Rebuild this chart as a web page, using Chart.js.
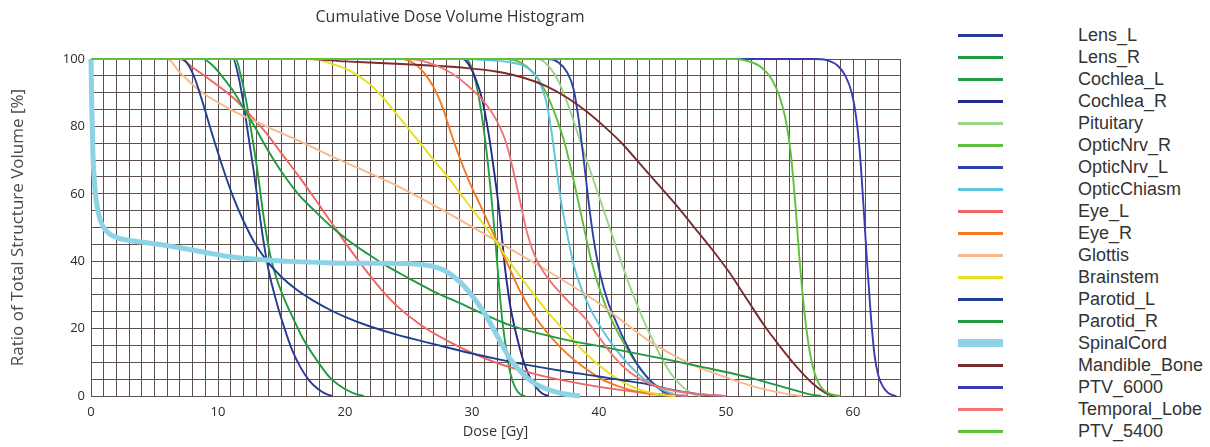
<!DOCTYPE html>
<html>
<head>
<meta charset="utf-8">
<script src="https://cdn.jsdelivr.net/npm/chart.js@4.4.1/dist/chart.umd.min.js"></script>
<style>
  body { margin: 0; background: #fff; width: 1210px; height: 447px; overflow: hidden; position: relative; }
  #wrap { position: absolute; left: 0; top: 0; width: 910px; height: 447px; }
  #legend { position: absolute; left: 958px; top: 24px; font-family: 'Liberation Sans', Arial, sans-serif; font-size: 18px; color: #333; }
  .row { height: 22px; display: flex; align-items: center; }
  .swatch { width: 45px; height: 3px; margin-right: 75px; }
</style>
</head>
<body>
<div id="wrap"><canvas id="dvh" width="910" height="447"></canvas></div>
<div id="legend"></div>
<script>
// structure names, in legend order
const structures = ['Lens_L', 'Lens_R', 'Cochlea_L', 'Cochlea_R', 'Pituitary', 'OpticNrv_R', 'OpticNrv_L',
  'OpticChiasm', 'Eye_L', 'Eye_R', 'Glottis', 'Brainstem', 'Parotid_L', 'Parotid_R', 'SpinalCord',
  'Mandible_Bone', 'PTV_6000', 'Temporal_Lobe', 'PTV_5400'];

const lineColors = ['#2b3a94', '#1f9a3f', '#23a043', '#25298a', '#9ad68a', '#5cbe3c', '#2f42a6',
  '#5cc6de', '#f26464', '#f37a22', '#f8b98a', '#e6e01e', '#1f3f8f', '#1f9a3f', '#8dd3e6',
  '#7a2b2e', '#3a3ab4', '#f07474', '#5dc23a'];

// dose [Gy], volume [%] pairs
const Lens_L = [[0,100],[11.2,100],[11.6,95],[12,87],[12.4,77],[12.8,67],[13.2,56],[13.6,45.5],[14,37],[14.6,28],[15.2,20.5],[15.8,14],[16.5,8.5],[17.2,4.5],[17.9,2],[18.5,0.6],[19,0]];
const Lens_R = [[0,100],[11.4,100],[11.8,95],[12.2,88],[12.6,79],[13.1,67],[13.6,53],[14.1,42],[14.6,35],[15.2,29],[15.8,24],[16.7,17],[17.8,10.5],[18.8,5.5],[19.8,2.5],[20.7,0.8],[21.5,0]];
const Cochlea_L = [[0,100],[29.5,100],[29.9,98],[30.3,93],[30.7,85],[31.1,74],[31.5,60],[31.8,48],[32.1,34],[32.4,22],[32.7,13.6],[33,7],[33.4,2.5],[33.8,0.5],[34.2,0]];
const Cochlea_R = [[0,100],[29.3,100],[29.8,98],[30.3,94],[30.8,88],[31.3,78],[31.8,65],[32.2,53],[32.6,38],[33,27],[33.5,18],[34,11],[34.5,6],[35,2.8],[35.5,0.8],[36,0]];
const Pituitary = [[0,100],[35.2,100],[36,98],[36.8,93.5],[37.6,86],[38.4,77],[39.3,67],[40.2,57],[41.1,47],[42,37],[42.9,28],[43.8,20],[44.7,13],[45.6,7],[46.5,3],[47.3,0.8],[48,0]];
const OpticNrv_R = [[0,100],[32.7,100],[33.8,99],[34.8,96],[35.7,91],[36.5,84],[37.3,75],[38,64],[38.7,52],[39.4,40],[40.2,30],[41,22.5],[41.9,16],[42.8,10.5],[43.7,6],[44.6,2.8],[45.4,0.8],[46,0]];
const OpticNrv_L = [[0,100],[36,100],[36.8,99],[37.5,96],[38,91],[38.4,82],[38.8,70],[39.2,57],[39.6,46],[40.1,36],[40.7,28],[41.4,21.5],[42.2,15],[43,9.5],[43.8,5.5],[44.6,2.5],[45.4,0.6],[46,0]];
const OpticChiasm = [[0,100],[29,100],[31.5,99.6],[33,99],[34.3,97.5],[35.2,94],[35.8,88],[36.2,80],[36.6,69],[37,58],[37.5,48],[38,39],[38.6,32],[39.3,26],[40.2,20],[41.2,14.5],[42.3,9.5],[43.5,5.2],[44.8,2.2],[46,0.5],[47,0]];
const Eye_L = [[0,100],[7,100],[8,97.5],[9.5,93.5],[11.2,88.5],[12.5,83.5],[13.8,78],[15,72],[16.5,64.5],[18,56.5],[19.2,50],[20.4,43.5],[21.7,37],[23,31],[24.3,26],[26,21],[28,16.5],[30,12.8],[32.2,9.5],[35,6.5],[37.5,4.4],[40,2.7],[43,1.2],[46,0.2],[47,0]];
const Eye_R = [[0,100],[24.5,100],[25.5,98.5],[26.3,95.5],[27,91.5],[27.7,85.5],[28.3,78.5],[29,71],[29.8,63.5],[30.6,57],[31.4,50.5],[32.2,44],[33,37.5],[33.8,31],[34.8,24.5],[36.1,18],[37.5,12.5],[38.8,8.5],[40.2,5],[41.6,2.8],[43,1.3],[44.5,0.4],[46,0]];
const Glottis = [[0,100],[6,100],[7,96],[8.6,90.5],[11,85],[13.8,80],[16.5,75.5],[19,71],[21.7,66.5],[24.3,62],[28,54.5],[32.2,45.4],[36,37],[40,27.5],[41.4,23.5],[42.7,19.8],[44,16.2],[45.4,13],[47.5,9],[49.3,6.5],[51,4.2],[53.2,1.8],[55,0.5],[56,0]];
const Brainstem = [[0,100],[17.5,100],[19,98.5],[20.4,96.5],[21.8,93],[23,88.5],[24.3,82.5],[25.6,76.5],[27,70],[28.3,64],[29.6,57.5],[31,50.5],[32.2,44],[33.5,37],[34.8,30.5],[36.1,24.3],[37.5,18.5],[38.8,13.2],[40.1,8.8],[41.4,5.2],[42.7,2.6],[44,1],[45.3,0.2],[46,0]];
const Parotid_L = [[0,100],[7.2,100],[7.7,98],[8.2,94],[8.8,87],[9.6,77],[10.4,67.5],[11.2,59],[12,52],[12.8,46],[13.8,40.3],[15,35.3],[16.2,31.5],[17.5,28.3],[18.8,25.6],[20,23.5],[21.7,21],[24,18.3],[27,15.4],[30,12.6],[32.2,10.8],[35,8.8],[37.5,7.2],[40,5.8],[42,4.6],[43.7,3.6],[45.3,2.2],[47,1],[48.5,0.3],[50,0]];
const Parotid_R = [[0,100],[8.8,100],[9.6,98],[10.4,94.5],[11.2,90.5],[12,85.5],[12.8,80.5],[14,72.5],[15.1,66],[16.3,60],[17.6,55],[19,50],[20.4,45.8],[21.7,42.4],[23,39.2],[25,35],[27,31],[29,27.6],[31,24.2],[33,21],[35,18.8],[37.5,16.6],[40,14.8],[42.7,12.8],[45.4,10.8],[48,8.7],[50.6,6.6],[52.5,4.8],[54.2,3],[55.6,1.5],[56.6,0.5],[57.5,0]];
const SpinalCord = [[0,100],[0.05,88],[0.15,72],[0.3,62],[0.6,54],[1,50],[1.5,48],[2.2,46.8],[3.3,46],[5,45.2],[7,44],[9,42.6],[11,41.3],[12.5,40.7],[14,40.3],[16.5,39.8],[19,39.5],[22,39.4],[24.5,39.3],[26,39],[27,38.4],[27.8,37.3],[28.6,35.3],[29.4,32.5],[30.2,28.8],[31,24.5],[31.7,19.8],[32.4,15],[33,11],[33.7,7.8],[34.4,5.2],[35.2,3.2],[36.1,1.8],[37,0.8],[38,0.2],[38.5,0]];
const Mandible_Bone = [[0,100],[17,100],[20,99.3],[24,98.6],[27,98],[29.6,97.3],[32,96.2],[34,94.5],[35.8,92],[37.5,88.5],[39,84.5],[40.4,80],[41.8,75],[43.2,69],[44.6,63],[46,57],[47.4,50.5],[48.8,44],[50.2,37],[51.6,29],[53,21],[54.4,14],[55.6,8.5],[56.8,3.8],[57.8,1],[58.5,0]];
const PTV_6000 = [[0,100],[57,100],[58,99.6],[58.8,98],[59.4,95],[59.9,90],[60.2,84],[60.5,74],[60.8,58],[61.1,40],[61.4,24],[61.7,12],[62,6],[62.4,2.5],[62.8,0.8],[63.4,0]];
const Temporal_Lobe = [[0,100],[25,100],[26.5,99],[28.3,96],[29.7,92],[30.9,87.5],[31.9,82],[32.7,75],[33.3,66],[33.8,57.5],[34.3,49],[34.9,42],[35.6,37],[36.5,32.5],[37.6,28],[38.8,23.5],[40,17.5],[41.2,11.5],[42.5,6.8],[44,3.6],[46,1.5],[48,0.5],[50,0]];
const PTV_5400 = [[0,100],[50.6,100],[51.8,99.3],[52.8,97.5],[53.6,94],[54.2,89],[54.7,82],[55.1,72],[55.5,55],[55.8,40],[56.2,24],[56.6,13],[57,6.5],[57.5,2.5],[58.2,0.6],[59,0]];

const curves = [Lens_L, Lens_R, Cochlea_L, Cochlea_R, Pituitary, OpticNrv_R, OpticNrv_L, OpticChiasm,
  Eye_L, Eye_R, Glottis, Brainstem, Parotid_L, Parotid_R, SpinalCord, Mandible_Bone, PTV_6000,
  Temporal_Lobe, PTV_5400];

const gridColor = '#5f5050';
const tickFont = { family: "'Open Sans', sans-serif", size: 13 };

let datasets = structures.map((name, i) => ({
  label: name,
  data: curves[i].map(p => ({ x: p[0], y: p[1] })),
  borderColor: lineColors[i],
  backgroundColor: lineColors[i],
  borderWidth: name === 'SpinalCord' ? 5 : 1.9,
  showLine: true,
  pointRadius: 0,
  cubicInterpolationMode: 'monotone',
  clip: 3,
  order: -i
}));

let chart = new Chart(document.getElementById('dvh'), {
  type: 'scatter',
  data: { datasets: datasets },
  options: {
    responsive: false,
    animation: false,
    layout: { padding: { left: 0, right: 10, top: 0, bottom: 0 } },
    plugins: {
      legend: { display: false },
      tooltip: { enabled: false },
      title: {
        display: true,
        text: 'Cumulative Dose Volume Histogram',
        color: '#333',
        font: { family: "'Open Sans', sans-serif", size: 16, weight: 'normal' },
        padding: { top: 8, bottom: 31.8 }
      }
    },
    scales: {
      x: {
        type: 'linear',
        min: 0,
        max: 63.7,
        afterFit: s => { s.height = 51; },
        grid: { color: gridColor, lineWidth: 1, drawTicks: false },
        border: { color: gridColor },
        ticks: {
          stepSize: 1, autoSkip: false, maxRotation: 0, padding: 8,
          color: '#2a2a2a', font: tickFont,
          callback: v => (v % 10 === 0 ? v : '')
        },
        title: {
          display: true, text: 'Dose [Gy]', color: '#333',
          font: { family: "'Open Sans', sans-serif", size: 14.5 },
          padding: { top: 0, bottom: 6 }
        }
      },
      y: {
        min: 0,
        max: 100,
        afterFit: s => { s.width = 91; },
        grid: { color: gridColor, lineWidth: 1, drawTicks: false },
        border: { color: gridColor },
        ticks: {
          stepSize: 5, autoSkip: false, padding: 6,
          color: '#2a2a2a', font: tickFont,
          callback: v => (v % 20 === 0 ? v : '')
        },
        title: {
          display: true, text: 'Ratio of Total Structure Volume [%]', color: '#4a4a4a',
          font: { family: "'Open Sans', sans-serif", size: 17 },
          padding: { top: 8, bottom: 0 }
        }
      }
    }
  }
});

// legend drawn beside the chart from the same datasets
let legendBox = document.getElementById('legend');
chart.data.datasets.forEach(ds => {
  let row = document.createElement('div');
  row.className = 'row';
  let sw = document.createElement('span');
  sw.className = 'swatch';
  sw.style.background = ds.borderColor;
  if (ds.label === 'SpinalCord') sw.style.height = '8px';
  let txt = document.createElement('span');
  txt.textContent = ds.label;
  row.appendChild(sw);
  row.appendChild(txt);
  legendBox.appendChild(row);
});
</script>
</body>
</html>
